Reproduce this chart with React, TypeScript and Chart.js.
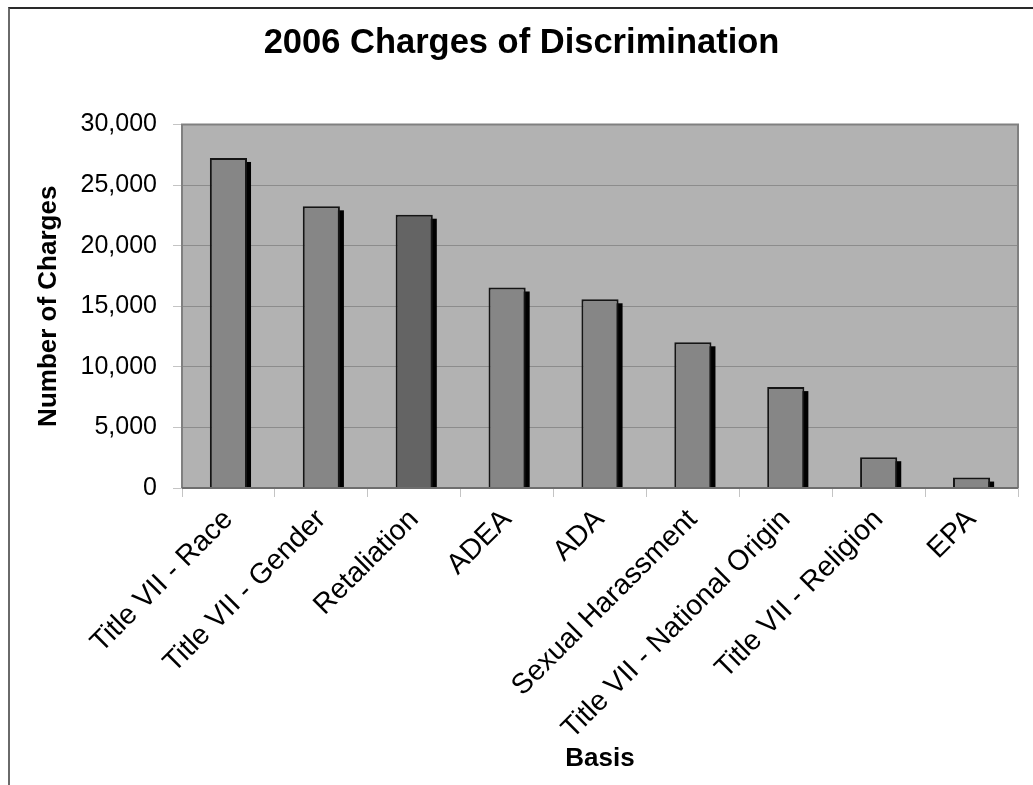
import React, { useEffect, useRef } from "react";
import { Chart, registerables } from "chart.js";

Chart.register(...registerables);

const categories = [
  "Title VII - Race",
  "Title VII - Gender",
  "Retaliation",
  "ADEA",
  "ADA",
  "Sexual Harassment",
  "Title VII - National Origin",
  "Title VII - Religion",
  "EPA",
];
const charges = [27238, 23247, 22555, 16548, 15575, 12025, 8327, 2541, 861];
const barColors = ["#868686", "#868686", "#646464", "#868686", "#868686", "#868686", "#868686", "#868686", "#868686"];
const yTicks = [0, 5000, 10000, 15000, 20000, 25000, 30000];

const FONT = "'Liberation Sans', Arial, Helvetica, sans-serif";

const plotAreaPlugin = {
  id: "plotArea",
  beforeDraw(chart: any) {
    const { ctx, chartArea } = chart;
    const { left, top, right, bottom } = chartArea;
    ctx.save();
    ctx.fillStyle = "#b2b2b2";
    ctx.fillRect(left, top, right - left, bottom - top);
    ctx.restore();
  },
  afterDatasetsDraw(chart: any) {
    const { ctx, chartArea } = chart;
    const { left, top, right, bottom } = chartArea;
    ctx.save();
    ctx.strokeStyle = "#808080";
    ctx.lineWidth = 2;
    ctx.beginPath();
    ctx.moveTo(left, bottom);
    ctx.lineTo(left, top);
    ctx.lineTo(right, top);
    ctx.lineTo(right, bottom);
    ctx.stroke();
    ctx.strokeStyle = "#6e6e6e";
    ctx.beginPath();
    ctx.moveTo(left, bottom);
    ctx.lineTo(right, bottom);
    ctx.stroke();
    ctx.restore();
  },
};

const shadowPlugin = {
  id: "barShadow",
  beforeDatasetsDraw(chart: any) {
    const { ctx } = chart;
    const meta = chart.getDatasetMeta(0);
    ctx.save();
    ctx.fillStyle = "#000000";
    meta.data.forEach((bar: any) => {
      const w = bar.width;
      const x0 = bar.x - w / 2 + 4;
      const y0 = bar.y + 4;
      const h = bar.base - y0;
      if (h > 0) ctx.fillRect(x0, y0, w, h);
    });
    ctx.restore();
  },
};

export default function App() {
  const canvasRef = useRef<HTMLCanvasElement | null>(null);

  useEffect(() => {
    if (!canvasRef.current) return;
    const chart = new Chart(canvasRef.current, {
      type: "bar",
      data: {
        labels: categories,
        datasets: [
          {
            label: "Charges",
            data: charges,
            backgroundColor: barColors,
            borderColor: "#151515",
            borderWidth: 2,
            barPercentage: 0.4,
            categoryPercentage: 1,
            yAxisID: "y",
          },
        ],
      },
      plugins: [plotAreaPlugin, shadowPlugin],
      options: {
        responsive: false,
        animation: false,
        devicePixelRatio: 1,
        layout: { padding: { left: 0, right: 0, top: 0, bottom: 0 } },
        plugins: {
          legend: { display: false },
          tooltip: { enabled: false },
          title: {
            display: true,
            text: "2006 Charges of Discrimination",
            color: "#000",
            font: { family: FONT, size: 34.5, weight: "bold" },
            padding: { top: 14, bottom: 60.1 },
          },
        },
        scales: {
          x: {
            afterFit(scale: any) {
              scale.height = 297;
            },
            grid: {
              drawOnChartArea: false,
              drawTicks: true,
              tickLength: 9,
              tickColor: "#c4c4c4",
              offset: true,
            },
            border: { display: false },
            ticks: {
              autoSkip: false,
              minRotation: 45,
              maxRotation: 45,
              padding: 6,
              color: "#000",
              font: { family: FONT, size: 28.5 },
            },
            title: {
              display: true,
              text: "Basis",
              color: "#000",
              font: { family: FONT, size: 26, weight: "bold" },
              padding: { top: 0, bottom: 10.5 },
            },
          },
          y: {
            min: 0,
            max: 30000,
            afterFit(scale: any) {
              scale.width = 172;
            },
            afterBuildTicks(scale: any) {
              scale.ticks = yTicks.map((v) => ({ value: v }));
            },
            grid: {
              color: "#8c8c8c",
              lineWidth: 1,
              drawTicks: true,
              tickLength: 9,
              tickColor: "#c4c4c4",
            },
            border: { display: false },
            ticks: {
              padding: 16,
              color: "#000",
              font: { family: FONT, size: 25 },
              callback: (v: any) => Number(v).toLocaleString("en-US"),
            },
            title: {
              display: true,
              text: "Number of Charges",
              color: "#000",
              font: { family: FONT, size: 26, weight: "bold" },
              padding: { top: 23.5, bottom: 0 },
            },
          },
          yRight: {
            position: "right",
            min: 0,
            max: 30000,
            afterFit(scale: any) {
              scale.width = 15;
            },
            grid: { drawOnChartArea: false, drawTicks: false },
            border: { display: false },
            ticks: { display: false },
          },
        },
      },
    });
    return () => chart.destroy();
  }, []);

  return (
    <div style={{ position: "fixed", left: 0, top: 0, width: 1033, height: 785, background: "#fff", overflow: "hidden" }}>
      <div
        style={{
          position: "absolute",
          left: 8,
          top: 7,
          width: 1040,
          height: 800,
          borderTop: "2px solid #2a2a2a",
          borderLeft: "2px solid #6a6a6a",
        }}
      />
      <div style={{ position: "absolute", left: 10, top: 9, width: 1023, height: 776 }}>
        <canvas ref={canvasRef} width={1023} height={776} style={{ width: 1023, height: 776, display: "block" }} />
      </div>
    </div>
  );
}
